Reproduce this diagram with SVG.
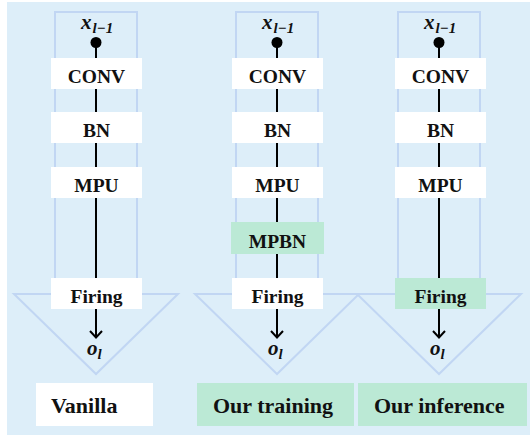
<svg xmlns="http://www.w3.org/2000/svg" width="530" height="435" viewBox="0 0 530 435">
<style>
.bg{fill:#ddeef9}
.shape{fill:none;stroke:#c1d6f3;stroke-width:2}
.box{fill:#ffffff}
.gbox{fill:#bbe9d5}
.lbl{font-weight:bold;font-size:19.5px;fill:#111;text-anchor:middle}
.big{font-weight:bold;font-size:22px;fill:#111}
.math{font-weight:bold;font-style:italic;fill:#111}
.wire{stroke:#000;stroke-width:2;fill:none}
</style>
<rect class="bg" x="7" y="2" width="523" height="433"/>

<g id="frames">
<path class="shape" d="M55,12 H137 V294 H178 L96,374 L14,294 H55 Z"/>
<path class="shape" d="M236,12 H318 V294 H359 L277,374 L195,294 H236 Z"/>
<path class="shape" d="M398,12 H480 V294 H521 L439,374 L357,294 H398 Z"/>
</g>

<g id="connectors">
<line class="wire" x1="96" y1="42" x2="96" y2="58"/>
<line class="wire" x1="96" y1="89" x2="96" y2="112"/>
<line class="wire" x1="96" y1="143" x2="96" y2="167"/>
<line class="wire" x1="96" y1="198" x2="96" y2="278"/>
<path class="wire" d="M96,309 V338 M90,331 L96,337.5 L102,331"/>

<line class="wire" x1="277" y1="42" x2="277" y2="58"/>
<line class="wire" x1="277" y1="89" x2="277" y2="112"/>
<line class="wire" x1="277" y1="143" x2="277" y2="167"/>
<line class="wire" x1="277" y1="198" x2="277" y2="222"/>
<line class="wire" x1="277" y1="254" x2="277" y2="278"/>
<path class="wire" d="M277,309 V338 M271,331 L277,337.5 L283,331"/>

<line class="wire" x1="439" y1="42" x2="439" y2="58"/>
<line class="wire" x1="439" y1="89" x2="439" y2="112"/>
<line class="wire" x1="439" y1="143" x2="439" y2="167"/>
<line class="wire" x1="439" y1="198" x2="439" y2="278"/>
<path class="wire" d="M439,309 V338 M433,331 L439,337.5 L445,331"/>
</g>

<g font-family="'Liberation Serif', 'Times New Roman', serif">
<g id="col1">
<g id="c1-in"><circle cx="96" cy="42.5" r="5.5" fill="#000"/><text class="math" x="81" y="29" font-size="21">x<tspan font-size="15" dy="4" dx="1">l−1</tspan></text></g>
<g id="c1-conv"><rect class="box" x="51" y="58" width="91" height="31"/><text class="lbl" x="96.5" y="83">CONV</text></g>
<g id="c1-bn"><rect class="box" x="51" y="112" width="91" height="31"/><text class="lbl" x="96.5" y="137">BN</text></g>
<g id="c1-mpu"><rect class="box" x="51" y="167" width="91" height="31"/><text class="lbl" x="96.5" y="192">MPU</text></g>
<g id="c1-fire"><rect class="box" x="51" y="278" width="91" height="31"/><text class="lbl" x="96.5" y="302.5">Firing</text></g>
<g id="c1-out"><text class="math" x="87" y="355" font-size="21">o<tspan font-size="15" dy="4">l</tspan></text></g>
<g id="c1-title"><rect class="box" x="36" y="383" width="117" height="43"/><text class="big" x="51" y="412.5">Vanilla</text></g>
</g>

<g id="col2">
<g id="c2-in"><circle cx="277" cy="42.5" r="5.5" fill="#000"/><text class="math" x="262" y="29" font-size="21">x<tspan font-size="15" dy="4" dx="1">l−1</tspan></text></g>
<g id="c2-conv"><rect class="box" x="232" y="58" width="91" height="31"/><text class="lbl" x="277.5" y="83">CONV</text></g>
<g id="c2-bn"><rect class="box" x="232" y="112" width="91" height="31"/><text class="lbl" x="277.5" y="137">BN</text></g>
<g id="c2-mpu"><rect class="box" x="232" y="167" width="91" height="31"/><text class="lbl" x="277.5" y="192">MPU</text></g>
<g id="c2-mpbn"><rect class="gbox" x="231" y="222" width="93" height="32"/><text class="lbl" x="277.5" y="247.5">MPBN</text></g>
<g id="c2-fire"><rect class="box" x="232" y="278" width="91" height="31"/><text class="lbl" x="277.5" y="302.5">Firing</text></g>
<g id="c2-out"><text class="math" x="268" y="355" font-size="21">o<tspan font-size="15" dy="4">l</tspan></text></g>
<g id="c2-title"><rect class="gbox" x="197" y="383" width="157" height="43"/><text class="big" x="213" y="412.5">Our training</text></g>
</g>

<g id="col3">
<g id="c3-in"><circle cx="439" cy="42.5" r="5.5" fill="#000"/><text class="math" x="424" y="29" font-size="21">x<tspan font-size="15" dy="4" dx="1">l−1</tspan></text></g>
<g id="c3-conv"><rect class="box" x="395" y="58" width="91" height="31"/><text class="lbl" x="440.5" y="83">CONV</text></g>
<g id="c3-bn"><rect class="box" x="395" y="112" width="91" height="31"/><text class="lbl" x="440.5" y="137">BN</text></g>
<g id="c3-mpu"><rect class="box" x="395" y="167" width="91" height="31"/><text class="lbl" x="440.5" y="192">MPU</text></g>
<g id="c3-fire"><rect class="gbox" x="395" y="278" width="91" height="31"/><text class="lbl" x="440.5" y="302.5">Firing</text></g>
<g id="c3-out"><text class="math" x="430" y="355" font-size="21">o<tspan font-size="15" dy="4">l</tspan></text></g>
<g id="c3-title"><rect class="gbox" x="358" y="383" width="169" height="43"/><text class="big" x="374" y="412.5">Our inference</text></g>
</g>
</g>
</svg>
